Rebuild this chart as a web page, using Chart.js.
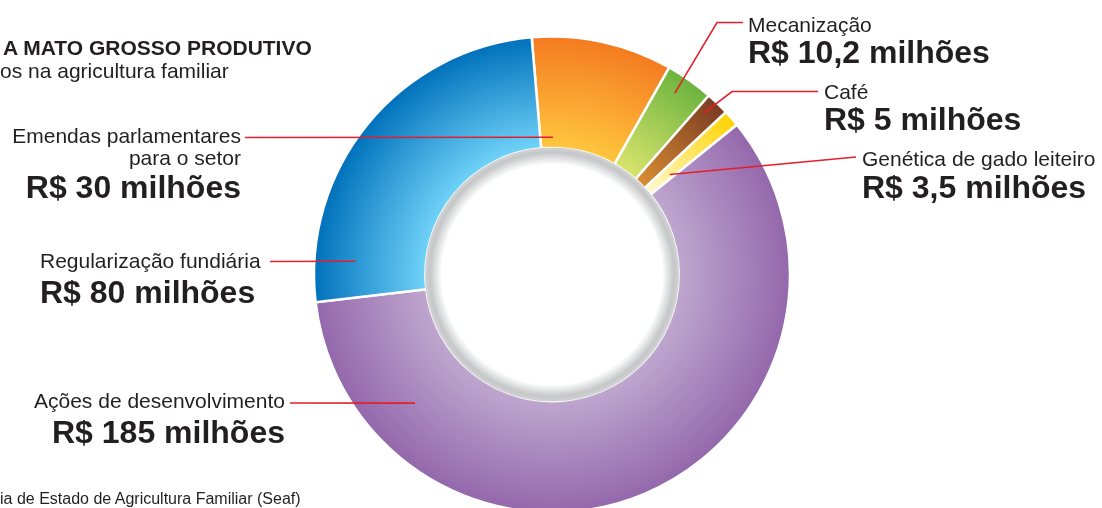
<!DOCTYPE html>
<html>
<head>
    <meta charset="utf-8">
    <title>Mato Grosso Produtivo</title>
    <script src="https://cdn.jsdelivr.net/npm/chart.js@4"></script>
    <style>
        body {
            margin: 0;
            background: #fff;
            font-family: 'Liberation Sans', Arial, sans-serif;
            color: #231f20;
        }

        #wrap {
            position: relative;
            width: 1102px;
            height: 508px;
            overflow: hidden;
        }

        #wrap canvas {
            position: absolute;
            left: 0;
            top: 0;
        }

        .t {
            position: absolute;
            line-height: 1;
            white-space: nowrap;
        }
    </style>
</head>
<body>
    <div id="wrap">
        <canvas id="chart" width="1102" height="508"></canvas>
        <div class="t" style="left:3px; top:37px; font-size:21px; font-weight:bold;">A MATO GROSSO PRODUTIVO</div>
        <div class="t" style="left:0px; top:60px; font-size:21px;">os na agricultura familiar</div>
        <div class="t" style="left:0px; top:491px; font-size:16px;">ia de Estado de Agricultura Familiar (Seaf)</div>
    </div>

    <script>
        // data, clockwise from the top
        const categories = ['Emendas parlamentares\npara o setor', 'Mecanização', 'Café', 'Genética de gado leiteiro', 'Ações de desenvolvimento', 'Regularização fundiária'];
        const amounts = [30, 10.2, 5, 3.5, 185, 80];   // R$ milhões

        // slice colours: light (inner edge) -> dark (outer edge)
        const innerColors = ['#ffc63e', '#d9e46c', '#d88d33', '#fffad0', '#bea6ce', '#6fd2f8'];
        const outerColors = ['#f47b20', '#6cb33f', '#7a3b22', '#ffd200', '#9468ac', '#0071bb'];

        // where each callout sits: text anchor, baselines, leader path, and point inside its slice
        const callouts = [
            { align: 'right', x: 241, nameY: 143, amountY: 198, path: [[245, 137.5]], at: [0.154, 0.096] },
            { align: 'left', x: 748, nameY: 32, amountY: 63, path: [[743, 22.5], [717, 22.5]], at: [0.39, 0.83] },
            { align: 'left', x: 824, nameY: 99, amountY: 130, path: [[818, 91.5], [732, 91.5]], at: [0.35, 0.85] },
            { align: 'left', x: 862, nameY: 166, amountY: 198, path: [[856, 157]], at: [0.67, 0.25] },
            { align: 'right', x: 285, nameY: 408, amountY: 443, path: [[290, 403]], at: [0.828, 0.55] },
            { align: 'left', x: 40, nameY: 268, amountY: 303, path: [[270, 261.5]], at: [0.115, 0.63] }
        ];

        const wrap = document.getElementById('wrap');

        function addText(text, c, baseline, size, bold) {
            const el = document.createElement('div');
            el.className = 't';
            el.textContent = text;
            el.style.fontSize = size + 'px';
            if (bold) el.style.fontWeight = 'bold';
            el.style.top = (baseline - size * 0.8465) + 'px';
            if (c.align === 'right') el.style.right = (1102 - c.x) + 'px';
            else el.style.left = c.x + 'px';
            wrap.appendChild(el);
        }

        categories.forEach((name, i) => {
            const c = callouts[i];
            name.split('\n').forEach((line, k) => addText(line, c, c.nameY + k * 22, 21, false));
            addText('R$ ' + String(amounts[i]).replace('.', ',') + ' milhões', c, c.amountY, 32, true);
        });

        function sliceGradient(ctx) {
            const chart = ctx.chart;
            const area = chart.chartArea;
            const meta = chart.getDatasetMeta(0);
            if (!area || !meta.controller || !meta.controller.outerRadius) return outerColors[ctx.dataIndex];
            const cx = (area.left + area.right) / 2;
            const cy = (area.top + area.bottom) / 2;
            const g = chart.ctx.createRadialGradient(cx, cy, meta.controller.innerRadius, cx, cy, meta.controller.outerRadius);
            g.addColorStop(0, innerColors[ctx.dataIndex]);
            g.addColorStop(1, outerColors[ctx.dataIndex]);
            return g;
        }

        // white hole with a soft grey rim
        const innerDisc = {
            id: 'innerDisc',
            afterDatasetsDraw(chart) {
                const arc = chart.getDatasetMeta(0).data[0];
                const r = arc.innerRadius + 0.5;
                const c = chart.ctx;
                const g = c.createRadialGradient(arc.x, arc.y, 0, arc.x, arc.y, r);
                g.addColorStop(0, '#ffffff');
                g.addColorStop((r - 17) / r, '#ffffff');
                g.addColorStop((r - 5) / r, '#c4c6c7');
                g.addColorStop(1, '#d3d4d5');
                c.save();
                c.beginPath();
                c.arc(arc.x, arc.y, r, 0, Math.PI * 2);
                c.fillStyle = g;
                c.fill();
                c.restore();
            }
        };

        // red leader lines from the texts into the slices
        const leaders = {
            id: 'leaders',
            afterDraw(chart) {
                const arcs = chart.getDatasetMeta(0).data;
                const c = chart.ctx;
                c.save();
                c.strokeStyle = '#e31e2d';
                c.lineWidth = 1.6;
                callouts.forEach((co, i) => {
                    const arc = arcs[i];
                    const a = arc.startAngle + (arc.endAngle - arc.startAngle) * co.at[0];
                    const r = arc.innerRadius + (arc.outerRadius - arc.innerRadius) * co.at[1];
                    c.beginPath();
                    co.path.forEach((p, k) => k ? c.lineTo(p[0], p[1]) : c.moveTo(p[0], p[1]));
                    c.lineTo(arc.x + r * Math.cos(a), arc.y + r * Math.sin(a));
                    c.stroke();
                });
                c.restore();
            }
        };

        new Chart(document.getElementById('chart'), {
            type: 'doughnut',
            data: {
                labels: categories,
                datasets: [{
                    data: amounts,
                    backgroundColor: sliceGradient,
                    borderColor: '#ffffff',
                    borderWidth: 2.5
                }]
            },
            options: {
                responsive: false,
                animation: false,
                rotation: -4.9,
                radius: 238,
                cutout: '53.2%',
                layout: { padding: { left: 2, top: 41 } },
                plugins: {
                    legend: { display: false },
                    tooltip: { enabled: false }
                }
            },
            plugins: [innerDisc, leaders]
        });
    </script>
</body>
</html>
